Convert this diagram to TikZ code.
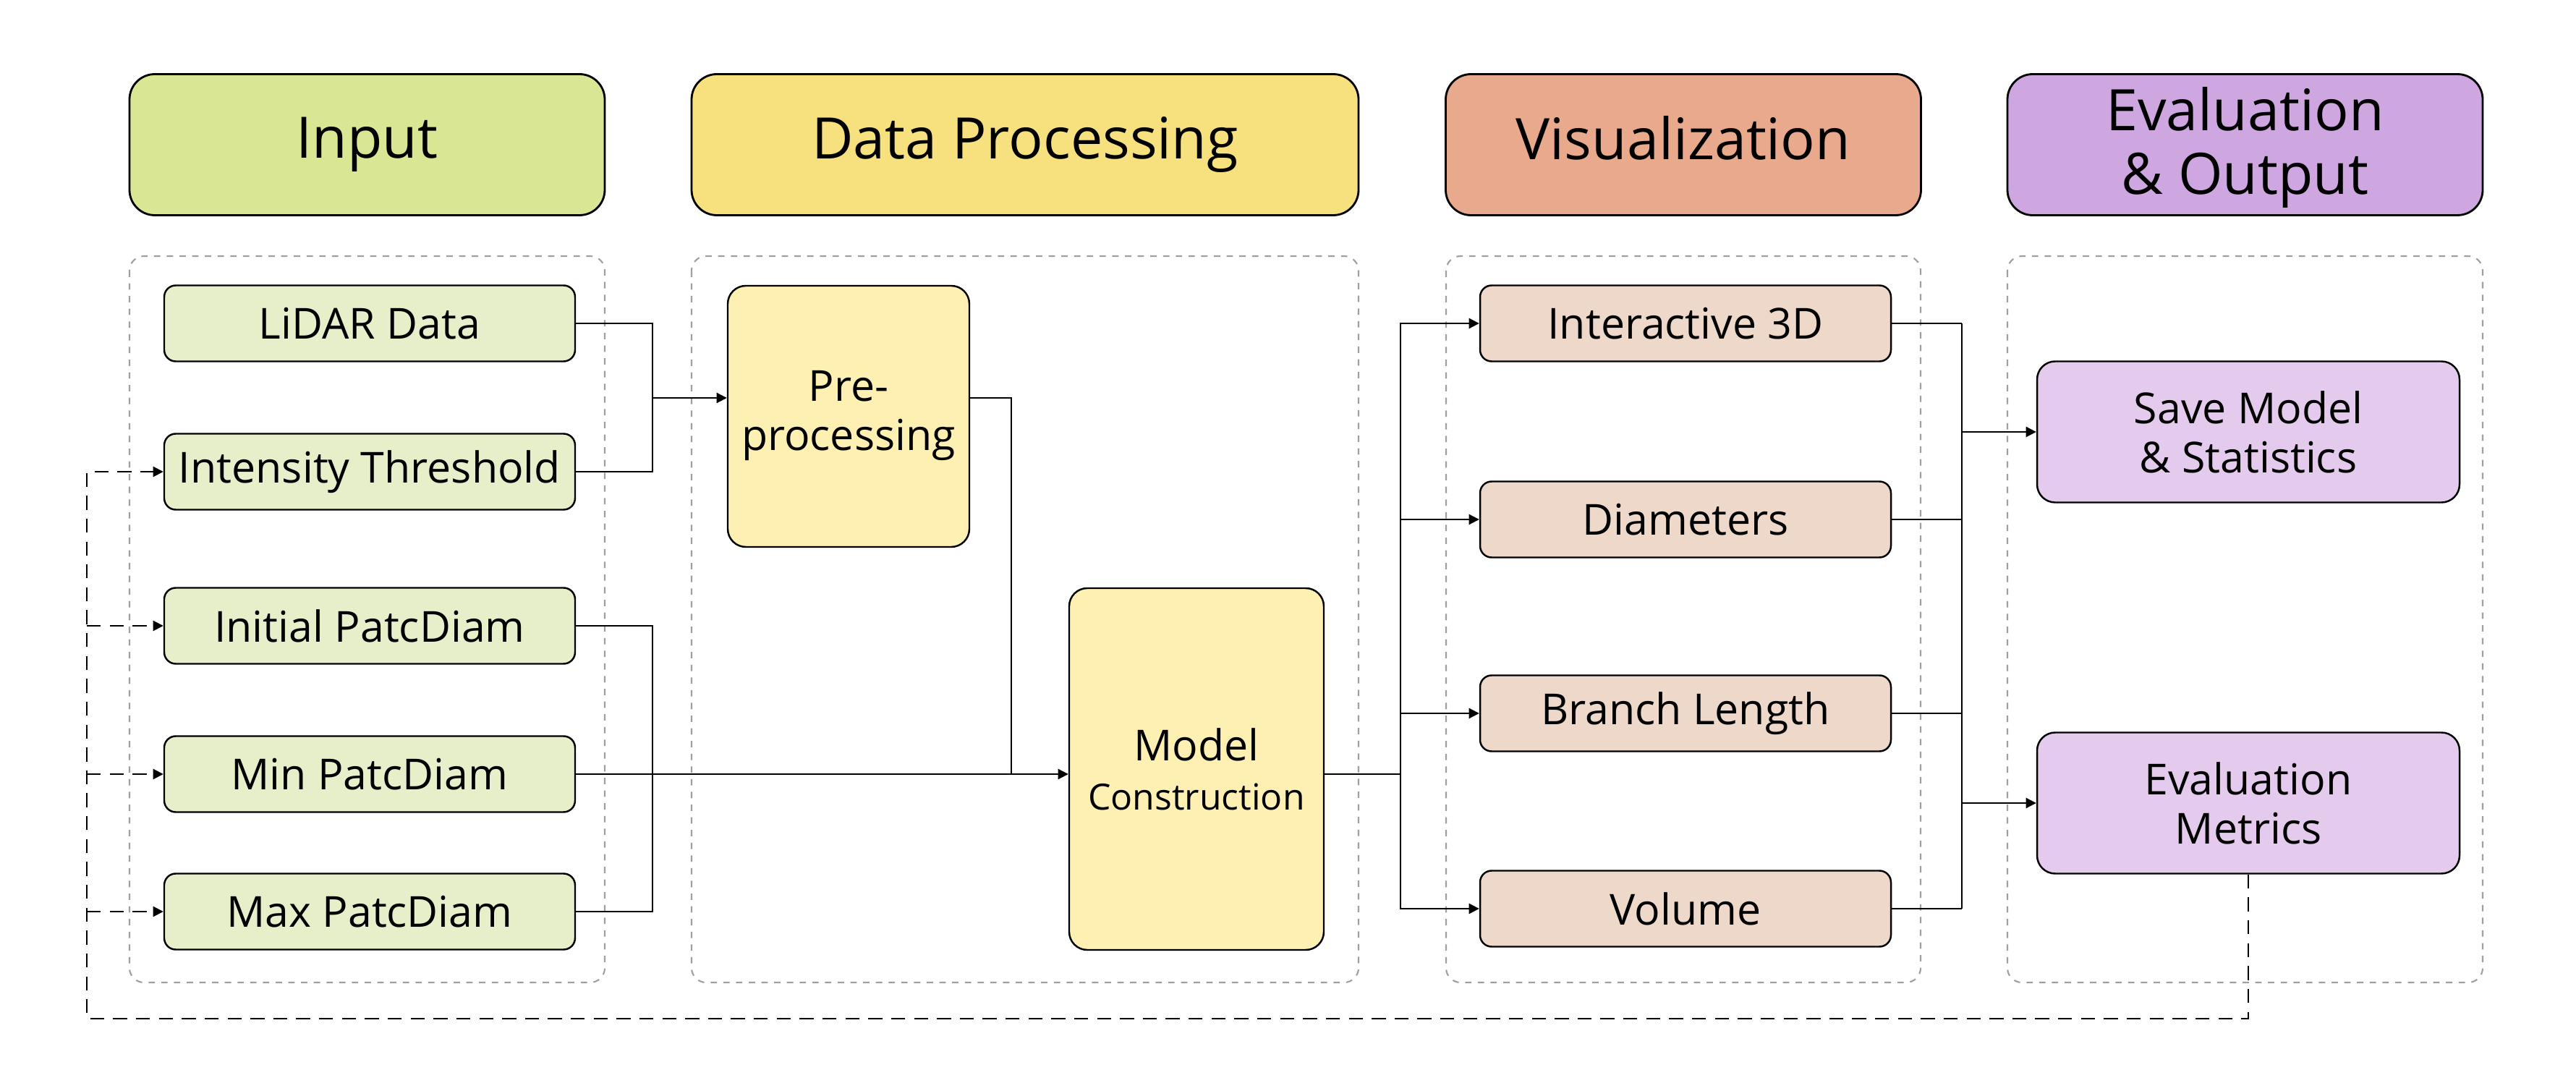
\documentclass[tikz,border=0pt]{standalone}
\usepackage{fontspec}
\setmainfont{Open Sans}
\usetikzlibrary{arrows.meta}

\definecolor{inHead}{HTML}{D9E694}
\definecolor{inBox}{HTML}{E6EFCA}
\definecolor{dpHead}{HTML}{F7E17F}
\definecolor{dpBox}{HTML}{FEF0B2}
\definecolor{visHead}{HTML}{E8A98D}
\definecolor{visBox}{HTML}{EDD8CA}
\definecolor{evHead}{HTML}{CFA7E0}
\definecolor{evBox}{HTML}{E4CBEE}

\begin{document}
\begin{tikzpicture}[
    head/.style={draw, line width=0.8pt, rounded corners=0.35cm, minimum width=6.57cm, minimum height=1.95cm, inner sep=2pt, align=center, font=\fontsize{22.5}{25}\selectfont},
    group/.style={draw=gray!75, line width=0.6pt, dash pattern=on 2.5pt off 2.5pt, rounded corners=0.2cm},
    box/.style={draw, line width=0.7pt, rounded corners=0.16cm, minimum width=5.68cm, minimum height=1.05cm, inner sep=2pt, align=center, font=\fontsize{16.8}{19.4}\selectfont},
    link/.style={line width=0.6pt},
    arr/.style={link, -{Triangle[length=4pt,width=4pt]}},
    back/.style={arr, dash pattern=on 5.5pt off 3.5pt}
]
    \useasboundingbox (0,0) rectangle (35.61,-15.08);

    % column headers
    \node[head, fill=inHead] (hin) at (5.075,-2.00) {Input};
    \node[head, fill=dpHead, minimum width=9.22cm] (hdp) at (14.17,-2.00) {Data Processing};
    \node[head, fill=visHead] (hvis) at (23.27,-2.00) {Visualization\vphantom{p}};
    \node[head, fill=evHead, text depth=0.3em] (hev) at (31.035,-2.00) {Evaluation\\\& Output};

    % dashed groups
    \draw[group] (1.79,-3.54) rectangle (8.36,-13.58);
    \draw[group] (9.56,-3.54) rectangle (18.78,-13.58);
    \draw[group] (19.99,-3.54) rectangle (26.55,-13.58);
    \draw[group] (27.75,-3.54) rectangle (34.32,-13.58);

    % input
    \node[box, fill=inBox] (lidar) at (5.11,-4.47) {LiDAR Data};
    \node[box, fill=inBox] (thresh) at (5.11,-6.52) {Intensity Threshold};
    \node[box, fill=inBox] (initd) at (5.11,-8.65) {Initial PatcDiam};
    \node[box, fill=inBox] (mind) at (5.11,-10.70) {Min PatcDiam};
    \node[box, fill=inBox] (maxd) at (5.11,-12.60) {Max PatcDiam};

    % data processing
    \node[box, fill=dpBox, rounded corners=0.25cm, minimum width=3.34cm, minimum height=3.61cm, text depth=0.45em] (pre) at (11.73,-5.755) {Pre-\\processing};
    \node[box, fill=dpBox, rounded corners=0.25cm, minimum width=3.52cm, minimum height=5.0cm] (model) at (16.54,-10.63) {Model\\{\fontsize{14.2}{16}\selectfont Construction}};

    % visualization
    \node[box, fill=visBox] (v3d) at (23.30,-4.47) {Interactive 3D};
    \node[box, fill=visBox] (vdiam) at (23.30,-7.18) {Diameters};
    \node[box, fill=visBox] (vbl) at (23.30,-9.86) {Branch Length};
    \node[box, fill=visBox] (vvol) at (23.30,-12.56) {Volume};

    % evaluation and output
    \node[box, fill=evBox, rounded corners=0.25cm, minimum width=5.84cm, minimum height=1.95cm] (save) at (31.08,-5.97) {Save Model\\\& Statistics};
    \node[box, fill=evBox, rounded corners=0.25cm, minimum width=5.84cm, minimum height=1.95cm] (metr) at (31.08,-11.10) {Evaluation\\Metrics};

    % input -> pre-processing
    \coordinate (jin) at (9.02,-5.50);
    \draw[link] (lidar.east) -| (jin);
    \draw[link] (thresh.east) -| (jin);
    \draw[arr] (jin) -- (jin -| pre.west);

    % patch diameters and pre-processing -> model
    \coordinate (jpd) at (9.02,-10.70);
    \draw[link] (initd.east) -| (jpd) |- (maxd.east);
    \coordinate (jpre) at (13.98,-10.70);
    \draw[link] (pre.east |- jin) -| (jpre);
    \draw[arr] (mind.east) -- (mind.east -| model.west);

    % model -> visualization
    \coordinate (jvis) at (19.36,-10.70);
    \draw[link] (model.east |- jvis) -- (jvis);
    \foreach \n in {v3d,vdiam,vbl,vvol}
        \draw[arr] (jvis) |- (\n.west);

    % visualization -> evaluation
    \coordinate (jev) at (27.12,-5.97);
    \foreach \n in {v3d,vdiam,vbl,vvol}
        \draw[link] (\n.east) -- (\n.east -| jev);
    \draw[link] (v3d.east -| jev) -- (vvol.east -| jev);
    \draw[arr] (jev |- save.west) -- (save.west);
    \draw[arr] (jev |- metr.west) -- (metr.west);

    % feedback to parameters
    \coordinate (fb) at (1.20,-14.08);
    \draw[back] (metr.south) |- (fb) |- (thresh.west);
    \foreach \n in {initd,mind,maxd}
        \draw[back] (\n.west -| fb) -- (\n.west);
\end{tikzpicture}
\end{document}
